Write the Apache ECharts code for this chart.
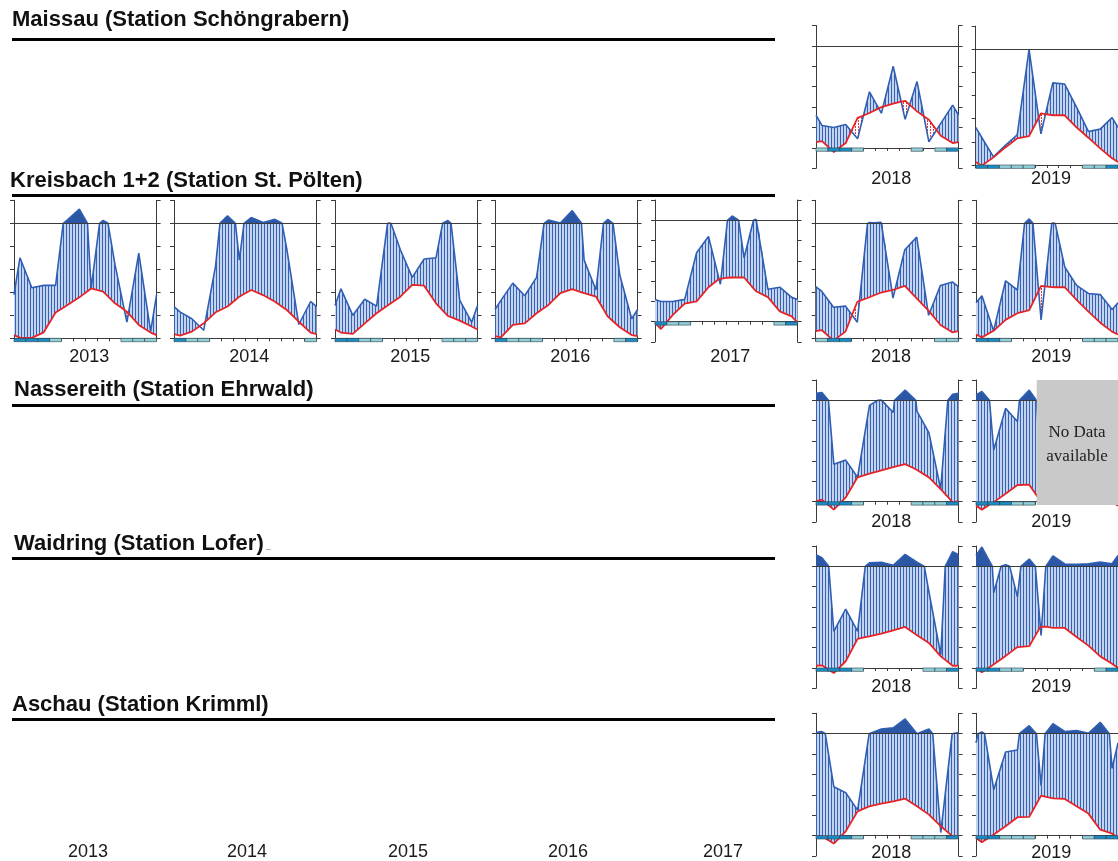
<!DOCTYPE html>
<html>
<head>
<meta charset="utf-8">
<script src="https://cdn.jsdelivr.net/npm/echarts@6/dist/echarts.min.js"></script>
<style>
  html, body { margin: 0; padding: 0; background: #ffffff; }
  #chart { width: 1118px; height: 861px; }
</style>
</head>
<body>
<div id="chart"></div>
<script>
// Walter-Lieth climate diagrams, one per station and year.
// Temp: monthly mean temperature (°C); Prec: monthly precipitation (mm);
// Frost: 0 = none, 1 = probable frost, 2 = sure frost.

const maissau2018Temp  = [3.3, -2.0, 2.4, 14.7, 17.1, 20.0, 21.7, 23.1, 17.9, 13.8, 6.0, 2.4];
const maissau2018Prec  = [22, 20, 23, 9, 55, 34, 80, 28, 65, 6, 24, 42];
const maissau2018Frost = [1, 2, 2, 1, 0, 0, 0, 0, 1, 0, 1, 2];

const maissau2019Temp  = [-0.3, 3.3, 7.6, 11.5, 12.5, 22.3, 21.5, 21.5, 16.3, 11.8, 7.2, 2.9];
const maissau2019Prec  = [24, 7, 17, 26, 100, 27, 71, 70, 50, 29, 31, 41];
const maissau2019Frost = [2, 2, 1, 1, 1, 0, 0, 0, 0, 1, 1, 2];

const kreisbach2013Temp  = [0.3, 0.2, 2.6, 11.2, 14.5, 17.8, 21.7, 20.3, 15.2, 11.6, 5.8, 2.5];
const kreisbach2013Prec  = [70, 44, 46, 46, 130, 224, 42, 125, 64, 14, 74, 6];
const kreisbach2013Frost = [2, 2, 2, 1, 0, 0, 0, 0, 0, 1, 1, 1];

const kreisbach2014Temp  = [1.2, 2.9, 6.5, 11.3, 13.8, 18.1, 21.0, 18.8, 15.9, 12.3, 7.2, 2.5];
const kreisbach2014Prec  = [23, 17, 7, 63, 164, 68, 150, 106, 134, 77, 12, 32];
const kreisbach2014Frost = [2, 1, 1, 0, 0, 0, 0, 0, 0, 0, 0, 1];

const kreisbach2015Temp  = [2.5, 1.9, 6.5, 10.9, 14.5, 18.1, 23.2, 22.9, 15.2, 9.7, 7.7, 5.1];
const kreisbach2015Prec  = [43, 20, 34, 28, 106, 77, 53, 69, 70, 124, 33, 14];
const kreisbach2015Frost = [2, 2, 1, 1, 0, 0, 0, 0, 0, 1, 1, 1];

const kreisbach2016Temp  = [0.4, 5.8, 6.5, 10.9, 14.5, 19.6, 21.4, 19.6, 18.1, 9.4, 4.8, 1.4];
const kreisbach2016Prec  = [33, 48, 37, 53, 128, 102, 210, 68, 42, 134, 55, 17];
const kreisbach2016Frost = [2, 1, 1, 1, 0, 0, 0, 0, 0, 0, 1, 2];

const kreisbach2017Temp  = [-3.6, 3.4, 8.9, 10.0, 17.0, 21.5, 21.8, 21.8, 15.0, 12.1, 5.1, 2.6];
const kreisbach2017Prec  = [20, 20, 22, 68, 84, 37, 142, 63, 110, 32, 34, 24];
const kreisbach2017Frost = [2, 1, 1, 0, 0, 0, 0, 0, 0, 0, 1, 2];

const kreisbach2018Temp  = [3.6, -1.0, 2.9, 15.9, 17.8, 19.9, 21.0, 22.8, 17.4, 12.0, 5.8, 2.6];
const kreisbach2018Prec  = [41, 27, 28, 14, 114, 108, 35, 77, 88, 20, 46, 49];
const kreisbach2018Frost = [1, 2, 2, 0, 0, 0, 0, 0, 0, 0, 1, 1];

const kreisbach2019Temp  = [0.4, 3.3, 8.0, 10.9, 12.3, 22.8, 22.2, 22.2, 16.7, 11.6, 6.8, 2.9];
const kreisbach2019Prec  = [37, 6, 50, 42, 138, 16, 109, 62, 46, 39, 38, 25];
const kreisbach2019Frost = [2, 2, 1, 0, 0, 0, 0, 0, 0, 1, 1, 1];

const nassereith2018Temp  = [1.0, -3.9, 2.1, 12.1, 13.8, 15.4, 17.0, 18.5, 15.7, 12.0, 6.2, -0.3];
const nassereith2018Prec  = [176, 37, 41, 24, 95, 102, 88, 200, 89, 68, 12, 160];
const nassereith2018Frost = [2, 2, 2, 1, 0, 0, 0, 0, 1, 1, 1, 2];

const nassereith2019Temp  = [-3.9, -0.2, 3.9, 8.2, 8.4, 0.0, null, null, null, null, null, -0.1];
const nassereith2019Prec  = [186, 51, 92, 79, 200, 33, null, null, null, null, null, 120];
const nassereith2019Frost = [2, 2, 2, 1, 1, 0, 0, 0, 0, 0, 0, 0];

const waidring2018Temp  = [1.3, -2.5, 3.3, 14.3, 15.6, 16.9, 18.5, 20.2, 16.1, 12.3, 5.7, 1.1];
const waidring2018Prec  = [184, 36, 58, 36, 135, 140, 110, 218, 140, 75, 13, 244];
const waidring2018Frost = [2, 2, 2, 1, 0, 0, 0, 0, 0, 1, 1, 2];

const waidring2019Temp  = [-2.1, 1.8, 5.9, 10.3, 10.7, 20.8, 19.7, 19.7, 15.2, 11.0, 5.7, 2.1];
const waidring2019Prec  = [290, 74, 116, 70, 172, 32, 202, 123, 120, 126, 142, 126];
const waidring2019Frost = [2, 2, 1, 1, 0, 0, 0, 0, 0, 0, 1, 2];

const aschau2018Temp  = [-0.3, -3.9, 2.1, 11.9, 14.4, 15.7, 16.8, 18.1, 14.4, 10.3, 4.6, -0.3];
const aschau2018Prec  = [120, 48, 42, 25, 102, 146, 158, 244, 100, 146, 3, 104];
const aschau2018Frost = [2, 2, 2, 1, 0, 0, 0, 0, 1, 1, 1, 2];

const aschau2019Temp  = [-3.3, 0.5, 4.6, 9.0, 9.2, 19.6, 18.3, 18.0, 14.4, 10.8, 2.9, 1.0];
const aschau2019Prec  = [116, 45, 82, 84, 178, 49, 198, 122, 132, 104, 212, 66];
const aschau2019Frost = [2, 2, 1, 1, 1, 0, 0, 0, 0, 1, 2, 2];

const stationTitles = [
  'Maissau (Station Schöngrabern)',
  'Kreisbach 1+2 (Station St. Pölten)',
  'Nassereith (Station Ehrwald)',
  'Waidring (Station Lofer)',
  'Aschau (Station Krimml)'
];
const bottomYears = ['2013', '2014', '2015', '2016', '2017'];
const noDataText = 'No Data\navailable';

// ---------- layout ----------
const W = 142.6;
const panels = [
  { T: maissau2018Temp, P: maissau2018Prec, F: maissau2018Frost, year: '2018', left: 816,   top: 25.5,  height: 142.8, min: -10, labelY: 185 },
  { T: maissau2019Temp, P: maissau2019Prec, F: maissau2019Frost, year: '2019', left: 975.7, top: 26.2,  height: 138.8, min: 0,   labelY: 185 },

  { T: kreisbach2013Temp, P: kreisbach2013Prec, F: kreisbach2013Frost, year: '2013', left: 14,    top: 200.3, height: 138, min: 0,   labelY: 363 },
  { T: kreisbach2014Temp, P: kreisbach2014Prec, F: kreisbach2014Frost, year: '2014', left: 174,   top: 200.3, height: 138, min: 0,   labelY: 363 },
  { T: kreisbach2015Temp, P: kreisbach2015Prec, F: kreisbach2015Frost, year: '2015', left: 335,   top: 200.3, height: 138, min: 0,   labelY: 363 },
  { T: kreisbach2016Temp, P: kreisbach2016Prec, F: kreisbach2016Frost, year: '2016', left: 495,   top: 200.3, height: 138, min: 0,   labelY: 363 },
  { T: kreisbach2017Temp, P: kreisbach2017Prec, F: kreisbach2017Frost, year: '2017', left: 655,   top: 200,   height: 142, min: -10, labelY: 363 },
  { T: kreisbach2018Temp, P: kreisbach2018Prec, F: kreisbach2018Frost, year: '2018', left: 815.7, top: 200.3, height: 138, min: 0,   labelY: 363 },
  { T: kreisbach2019Temp, P: kreisbach2019Prec, F: kreisbach2019Frost, year: '2019', left: 976,   top: 200.3, height: 138, min: 0,   labelY: 363 },

  { T: nassereith2018Temp, P: nassereith2018Prec, F: nassereith2018Frost, year: '2018', left: 816, top: 380, height: 142, min: -10, labelY: 528 },
  { T: nassereith2019Temp, P: nassereith2019Prec, F: nassereith2019Frost, year: '2019', left: 976, top: 380, height: 142, min: -10, labelY: 528, noData: true },

  { T: waidring2018Temp, P: waidring2018Prec, F: waidring2018Frost, year: '2018', left: 816, top: 546, height: 142.3, min: -10, labelY: 693 },
  { T: waidring2019Temp, P: waidring2019Prec, F: waidring2019Frost, year: '2019', left: 976, top: 546, height: 142.3, min: -10, labelY: 693 },

  { T: aschau2018Temp, P: aschau2018Prec, F: aschau2018Frost, year: '2018', left: 816, top: 713.3, height: 142.7, min: -10, labelY: 859 },
  { T: aschau2019Temp, P: aschau2019Prec, F: aschau2019Frost, year: '2019', left: 976, top: 713.3, height: 142.7, min: -10, labelY: 859 }
];

const titleRows = [
  { x: 12, baseline: 28,  lineY: 39.5 },
  { x: 10, baseline: 189, lineY: 195.5 },
  { x: 14, baseline: 398, lineY: 405.5 },
  { x: 14, baseline: 552, lineY: 558.5 },
  { x: 12, baseline: 713, lineY: 719.5 }
];
const bottomYearX = [88, 247, 408, 568, 723];

// ---------- colours ----------
const BLUE = '#2f5fb3';
const BLUE_SOLID = '#2b57a5';
const RED = '#e52428';
const FROST_SURE = '#1a8dc6';
const FROST_PROB = '#92d0d9';
const AXIS = '#3a3a3a';

function makePattern(w, h, paint) {
  const c = document.createElement('canvas');
  c.width = w; c.height = h;
  paint(c.getContext('2d'));
  return { image: c, repeat: 'repeat' };
}
const hatchFill = makePattern(3, 1, g => {
  g.fillStyle = '#c4d4ef'; g.fillRect(0, 0, 3, 1);
  g.fillStyle = '#3562b6'; g.fillRect(0, 0, 1, 1);
});
const aridFill = makePattern(3, 3, g => {
  g.fillStyle = '#e8383c'; g.fillRect(0, 0, 1, 2);
});

// ---------- Walter-Lieth geometry ----------
// precipitation axis: 2 mm per °C up to 100 mm, 20 mm per °C above
function scaleP(p) { return p <= 100 ? p / 2 : 50 + (p - 100) / 20; }
function edgeMean(a, b) { return (a == null || b == null) ? null : (a + b) / 2; }

// Builds contiguous runs of vertices {x, t, y}; monthly values sit at mid-month,
// year edges carry the December/January mean. Precipitation is interpolated in mm,
// so a vertex is added where it passes 100 mm, and where it meets the temperature.
function buildRuns(T, P) {
  const nx = [0], nt = [edgeMean(T[11], T[0])], np = [edgeMean(P[11], P[0])];
  for (let i = 0; i < 12; i++) { nx.push(i + 0.5); nt.push(T[i]); np.push(P[i]); }
  nx.push(12); nt.push(nt[0]); np.push(np[0]);
  const runs = [];
  let run = null;
  for (let k = 1; k < nx.length; k++) {
    const a = k - 1, b = k;
    if (nt[a] == null || np[a] == null || nt[b] == null || np[b] == null) { run = null; continue; }
    if (!run) { run = [{ x: nx[a], t: nt[a], y: scaleP(np[a]) }]; runs.push(run); }
    const pts = [{ x: nx[a], t: nt[a], p: np[a] }];
    if ((np[a] - 100) * (np[b] - 100) < 0) {
      const f = (100 - np[a]) / (np[b] - np[a]);
      pts.push({ x: nx[a] + f * (nx[b] - nx[a]), t: nt[a] + f * (nt[b] - nt[a]), p: 100 });
    }
    pts.push({ x: nx[b], t: nt[b], p: np[b] });
    for (let j = 1; j < pts.length; j++) {
      const u = pts[j - 1], v = pts[j];
      const du = scaleP(u.p) - u.t, dv = scaleP(v.p) - v.t;
      if (du * dv < 0) {
        const f = du / (du - dv);
        const t = u.t + f * (v.t - u.t);
        run.push({ x: u.x + f * (v.x - u.x), t: t, y: t });
      }
      run.push({ x: v.x, t: v.t, y: scaleP(v.p) });
    }
  }
  return runs;
}

function bandPolygon(api, run, hi, lo) {
  const top = run.map(v => api.coord([v.x, hi(v)]));
  const bottom = run.slice().reverse().map(v => api.coord([v.x, lo(v)]));
  return top.concat(bottom);
}

// ---------- option ----------
const grid = [], xAxis = [], yAxis = [], series = [], graphic = [];

panels.forEach((pn, gi) => {
  grid.push({ left: pn.left, top: pn.top, width: W, height: pn.height, containLabel: false });
  xAxis.push({
    type: 'value', gridIndex: gi, min: 0, max: 12, interval: 1,
    axisLine: { show: true, onZero: true, lineStyle: { color: AXIS, width: 1 } },
    axisTick: { show: true, length: 3, lineStyle: { color: AXIS, width: 1 } },
    axisLabel: { show: false }, splitLine: { show: false }
  });
  ['left', 'right'].forEach(pos => {
    yAxis.push({
      type: 'value', gridIndex: gi, position: pos, min: pn.min, max: 60, interval: 10,
      axisLine: { show: true, onZero: false, lineStyle: { color: AXIS, width: 1 } },
      axisTick: { show: true, length: 4, lineStyle: { color: AXIS, width: 1 } },
      axisLabel: { show: false }, splitLine: { show: false }
    });
  });
  const yi = gi * 2;
  const runs = buildRuns(pn.T, pn.P);

  // humid (hatched), arid (red dots) and >100 mm (solid) areas
  series.push({
    type: 'custom', xAxisIndex: gi, yAxisIndex: yi, z: 1, silent: true, clip: false,
    data: [[0, 0]],
    renderItem: (params, api) => {
      const children = [];
      runs.forEach(run => {
        children.push({ type: 'polygon', shape: { points: bandPolygon(api, run, v => Math.max(v.t, Math.min(v.y, 50)), v => v.t) },
          style: { fill: hatchFill, stroke: null } });
        children.push({ type: 'polygon', shape: { points: bandPolygon(api, run, v => v.t, v => Math.min(v.y, v.t)) },
          style: { fill: aridFill, stroke: null } });
        children.push({ type: 'polygon', shape: { points: bandPolygon(api, run, v => Math.max(v.y, 50), () => 50) },
          style: { fill: BLUE_SOLID, stroke: null } });
      });
      return { type: 'group', children };
    }
  });

  runs.forEach((run, ri) => {
    series.push({
      type: 'line', xAxisIndex: gi, yAxisIndex: yi, z: 3, silent: true, clip: false,
      symbol: 'none', animation: false,
      lineStyle: { color: BLUE, width: 1.6 },
      data: run.map(v => [v.x, v.y]),
      markLine: ri === 0 ? {
        silent: true, symbol: ['none', 'none'], label: { show: false }, animation: false,
        lineStyle: { color: AXIS, width: 1, type: 'solid' },
        data: [{ yAxis: 50 }]
      } : undefined
    });
    series.push({
      type: 'line', xAxisIndex: gi, yAxisIndex: yi, z: 4, silent: true, clip: false,
      symbol: 'none', animation: false,
      lineStyle: { color: RED, width: 1.8 },
      data: run.map(v => [v.x, v.t])
    });
  });

  // frost bars below the zero line
  series.push({
    type: 'custom', xAxisIndex: gi, yAxisIndex: yi, z: 5, silent: true, clip: false,
    data: pn.F.map((c, i) => [i, c]),
    renderItem: (params, api) => {
      const cls = api.value(1);
      if (!cls) return null;
      const m = api.value(0);
      const p0 = api.coord([m, 0]), p1 = api.coord([m + 1, 0]);
      return {
        type: 'rect',
        shape: { x: p0[0], y: p0[1], width: p1[0] - p0[0], height: 3.4 },
        style: { fill: cls === 2 ? FROST_SURE : FROST_PROB, stroke: '#2d3f4a', lineWidth: 0.6 }
      };
    }
  });

  graphic.push({
    type: 'text', z: 10, silent: true,
    style: { text: pn.year, x: pn.left + W / 2 + 4, y: pn.labelY - 6.3, align: 'center', verticalAlign: 'middle',
      font: '18px "Liberation Sans", Arial, sans-serif', fill: '#1a1a1a' }
  });

  if (pn.noData) {
    graphic.push({
      type: 'rect', z: 20, silent: true,
      shape: { x: pn.left + 60.7, y: pn.top, width: 120, height: 125 },
      style: { fill: '#c9c9c9' }
    });
    graphic.push({
      type: 'text', z: 21, silent: true,
      style: { text: noDataText, x: pn.left + 101, y: pn.top + 65, align: 'center', verticalAlign: 'middle',
        font: '17px "Liberation Serif", "Times New Roman", serif', fill: '#222', lineHeight: 24 }
    });
  }
});

stationTitles.forEach((t, i) => {
  const r = titleRows[i];
  graphic.push({
    type: 'text', z: 10, silent: true,
    style: { text: t, x: r.x, y: r.baseline - 7.7, verticalAlign: 'middle',
      font: 'bold 22px "Liberation Sans", Arial, sans-serif', fill: '#111' }
  });
  graphic.push({
    type: 'line', z: 10, silent: true,
    shape: { x1: 12, y1: r.lineY, x2: 775, y2: r.lineY },
    style: { stroke: '#000', lineWidth: 3 }
  });
});

// small grey underscore after the Waidring heading
graphic.push({
  type: 'line', z: 10, silent: true,
  shape: { x1: 266, y1: 549.5, x2: 271, y2: 549.5 },
  style: { stroke: '#b5b5b5', lineWidth: 1 }
});

bottomYears.forEach((y, i) => {
  graphic.push({
    type: 'text', z: 10, silent: true,
    style: { text: y, x: bottomYearX[i], y: 858.5 - 6.3, align: 'center', verticalAlign: 'middle',
      font: '18px "Liberation Sans", Arial, sans-serif', fill: '#1a1a1a' }
  });
});

const chart = echarts.init(document.getElementById('chart'), null, { renderer: 'canvas', width: 1118, height: 861 });
chart.setOption({
  animation: false,
  backgroundColor: '#ffffff',
  grid, xAxis, yAxis, series, graphic
});
</script>
</body>
</html>
